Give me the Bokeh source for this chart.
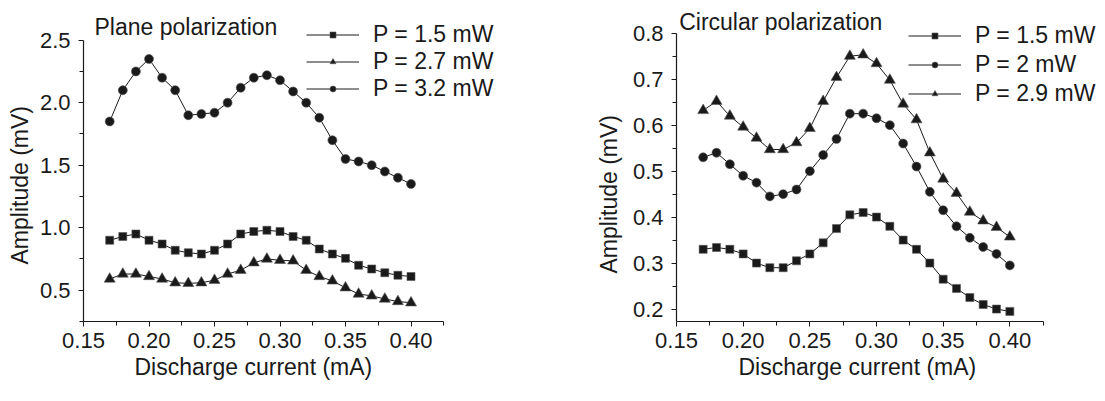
from bokeh.plotting import figure
from bokeh.layouts import row
from bokeh.models import (Range1d, FixedTicker, PrintfTickFormatter, Legend, LegendItem,
                          Label, Title)
from bokeh.embed import file_html
from bokeh.resources import INLINE

# ---------------- data ----------------
current = [0.17, 0.18, 0.19, 0.20, 0.21, 0.22, 0.23, 0.24, 0.25, 0.26, 0.27, 0.28,
           0.29, 0.30, 0.31, 0.32, 0.33, 0.34, 0.35, 0.36, 0.37, 0.38, 0.39, 0.40]

plane_1_5 = [0.90, 0.93, 0.95, 0.90, 0.87, 0.82, 0.80, 0.79, 0.82, 0.87, 0.95, 0.97,
             0.98, 0.97, 0.93, 0.90, 0.83, 0.79, 0.755, 0.70, 0.67, 0.64, 0.62, 0.61]
plane_2_7 = [0.59, 0.63, 0.63, 0.61, 0.59, 0.56, 0.555, 0.56, 0.58, 0.63, 0.66, 0.72,
             0.75, 0.74, 0.735, 0.66, 0.61, 0.575, 0.52, 0.47, 0.455, 0.43, 0.41, 0.40]
plane_3_2 = [1.85, 2.10, 2.25, 2.35, 2.20, 2.10, 1.90, 1.91, 1.92, 2.00, 2.12, 2.20,
             2.22, 2.18, 2.09, 2.00, 1.88, 1.70, 1.55, 1.53, 1.50, 1.45, 1.40, 1.35]

circ_1_5 = [0.33, 0.334, 0.33, 0.32, 0.30, 0.29, 0.29, 0.305, 0.32, 0.344, 0.375, 0.405,
            0.41, 0.40, 0.38, 0.35, 0.33, 0.30, 0.265, 0.245, 0.225, 0.21, 0.20, 0.195]
circ_2 = [0.53, 0.54, 0.515, 0.49, 0.475, 0.445, 0.45, 0.46, 0.50, 0.535, 0.57, 0.625,
          0.625, 0.615, 0.60, 0.56, 0.51, 0.455, 0.415, 0.38, 0.355, 0.335, 0.32, 0.295]
circ_2_9 = [0.632, 0.652, 0.62, 0.596, 0.572, 0.547, 0.547, 0.562, 0.593, 0.652, 0.704, 0.75,
            0.753, 0.734, 0.698, 0.646, 0.612, 0.54, 0.483, 0.452, 0.411, 0.392, 0.378, 0.357]

x_ticks = [0.15, 0.20, 0.25, 0.30, 0.35, 0.40]
x_minor = [0.175, 0.225, 0.275, 0.325, 0.375, 0.425]
plane_y_ticks = [0.5, 1.0, 1.5, 2.0, 2.5]
plane_y_minor = [0.25, 0.75, 1.25, 1.75, 2.25]
circ_y_ticks = [0.2, 0.3, 0.4, 0.5, 0.6, 0.7, 0.8]
circ_y_minor = [0.25, 0.35, 0.45, 0.55, 0.65, 0.75]

FONT = "Liberation Sans"
INK = "#1a1a1a"


def make_fig(width, left, x_end, y_range, y_bounds, y_ticks, y_minor,
             title, title_xy, xlab_offset, ylab_offset, ylab_standoff):
    p = figure(width=width, height=385, output_backend="svg", toolbar_location=None,
               title=None,
               x_range=Range1d(0.15, x_end), y_range=Range1d(*y_range),
               min_border_top=0, min_border_left=left, min_border_bottom=64,
               min_border_right=0,
               frame_width=width - left, frame_height=321)
    p.outline_line_color = None
    p.xgrid.visible = False
    p.ygrid.visible = False
    p.background_fill_color = "white"
    p.border_fill_color = "white"

    p.xaxis.ticker = FixedTicker(ticks=x_ticks, minor_ticks=x_minor)
    p.xaxis.formatter = PrintfTickFormatter(format="%.2f")
    p.yaxis.ticker = FixedTicker(ticks=y_ticks, minor_ticks=y_minor)
    p.yaxis.formatter = PrintfTickFormatter(format="%.1f")
    p.xaxis.bounds = (0.15, 0.425)
    p.yaxis.bounds = y_bounds
    for ax in (p.xaxis[0], p.yaxis[0]):
        ax.axis_line_color = INK
        ax.axis_line_width = 1.2
        ax.major_tick_line_color = INK
        ax.minor_tick_line_color = INK
        ax.major_tick_out = 5
        ax.major_tick_in = 0
        ax.minor_tick_out = 4
        ax.minor_tick_in = 0
        ax.major_label_text_font = FONT
        ax.major_label_text_font_size = "22px"
        ax.major_label_text_color = INK
    p.xaxis.major_label_standoff = 6
    p.yaxis.major_label_standoff = 8

    # axis titles placed as side-panel titles so they line up with the drawn axis
    xt = Title(text="Discharge current (mA)", align="left", offset=xlab_offset,
               standoff=2, text_font=FONT, text_font_size="23px",
               text_font_style="normal", text_color=INK)
    p.add_layout(xt, "below")
    yt = Title(text="Amplitude (mV)", align="left", offset=ylab_offset,
               standoff=ylab_standoff, text_font=FONT, text_font_size="23px",
               text_font_style="normal", text_color=INK)
    p.add_layout(yt, "left")

    p.add_layout(Label(x=title_xy[0], y=title_xy[1], text=title, text_font=FONT,
                       text_font_size="23px", text_color=INK,
                       text_baseline="alphabetic", text_align="left"))
    return p


def add_series(p, ys, marker, size, label, items):
    ln = p.line(current, ys, line_color=INK, line_width=1)
    sc = p.scatter(current, ys, marker=marker, size=size, fill_color=INK,
                   line_color="#555555", line_width=0.6)
    items.append(LegendItem(label=label, renderers=[ln, sc]))


def add_legend(p, items, loc, spacing):
    lg = Legend(items=items, location=loc, orientation="vertical",
                glyph_width=53, glyph_height=15, label_standoff=14,
                label_height=20, spacing=spacing, padding=0, margin=0,
                border_line_color=None, background_fill_alpha=0,
                label_text_font=FONT, label_text_font_size="23px",
                label_text_color=INK)
    p.add_layout(lg, "center")


# ---------------- left: plane polarization ----------------
p1 = make_fig(width=580, left=78, x_end=0.5332, y_range=(0.25, 2.8176),
              y_bounds=(0.25, 2.5), y_ticks=plane_y_ticks, y_minor=plane_y_minor,
              title="Plane polarization", title_xy=(0.1584, 2.607),
              xlab_offset=51, ylab_offset=57, ylab_standoff=8)
items1 = []
add_series(p1, plane_1_5, "square", 8, "P = 1.5 mW", items1)
add_series(p1, plane_2_7, "triangle", 11, "P = 2.7 mW", items1)
add_series(p1, plane_3_2, "circle", 9, "P = 3.2 mW", items1)
add_legend(p1, items1, (223, 219), 0)

# ---------------- right: circular polarization ----------------
p2 = make_fig(width=509, left=89, x_end=0.465, y_range=(0.173, 0.8711),
              y_bounds=(0.173, 0.8), y_ticks=circ_y_ticks, y_minor=circ_y_minor,
              title="Circular polarization", title_xy=(0.152, 0.8233),
              xlab_offset=62, ylab_offset=48, ylab_standoff=16)
items2 = []
add_series(p2, circ_1_5, "square", 8, "P = 1.5 mW", items2)
add_series(p2, circ_2, "circle", 9, "P = 2 mW", items2)
add_series(p2, circ_2_9, "triangle", 11, "P = 2.9 mW", items2)
add_legend(p2, items2, (232, 214), 2)

layout = row(p1, p2)
open("out.html", "w").write(file_html(layout, INLINE))
